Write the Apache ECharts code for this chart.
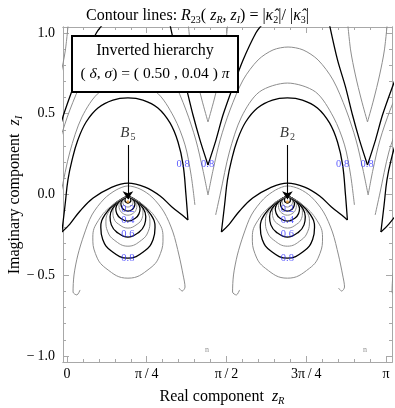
<!DOCTYPE html>
<html><head><meta charset="utf-8">
<script src="https://cdn.jsdelivr.net/npm/echarts@6/dist/echarts.min.js"></script>
<style>html,body{margin:0;padding:0;background:#fff}#c{width:395px;height:408px}</style>
</head><body><div id="c"></div>
<script>
// ---------- axes / ticks (x in units of pi) ----------
const X_MIN = -0.0125, X_MAX = 1.0188, Y_MIN = -1.037, Y_MAX = 1.037;
const xTickValues = [0, 0.25, 0.5, 0.75, 1];
const xTickLabels = ['0', 'π\u2009/\u20094', 'π\u2009/\u20092', '3π\u2009/\u20094', 'π'];
const xMinorTicks = [0.05,0.1,0.15,0.2,0.3,0.35,0.4,0.45,0.55,0.6,0.65,0.7,0.8,0.85,0.9,0.95];
const yTickValues = [-1, -0.5, 0, 0.5, 1];
const yTickLabels = ['\u2212\u20091.0', '\u2212\u20090.5', '0.0', '0.5', '1.0'];
const yMinorTicks = [-0.9,-0.8,-0.7,-0.6,-0.4,-0.3,-0.2,-0.1,0.1,0.2,0.3,0.4,0.6,0.7,0.8,0.9];

// ---------- contour loops below the zeros (B5 at 0.191 pi, B2 at 0.691 pi) ----------
const loopColors = ['k','g','k','g','k','g','k','g','k','g'];
const loopsB5 = [
 [[.191,-.010],[.195,-.014],[.199,-.023],[.200,-.032],[.200,-.040],[.197,-.048],[.191,-.053],[.185,-.048],[.182,-.040],[.182,-.032],[.183,-.023],[.187,-.014],[.191,-.010]],
 [[.191,-.010],[.198,-.017],[.204,-.030],[.207,-.044],[.206,-.058],[.201,-.070],[.191,-.078],[.181,-.070],[.176,-.058],[.175,-.044],[.178,-.030],[.184,-.017],[.191,-.010]],
 [[.191,-.010],[.200,-.019],[.210,-.038],[.213,-.056],[.211,-.075],[.205,-.092],[.191,-.103],[.177,-.092],[.171,-.075],[.169,-.056],[.172,-.038],[.182,-.019],[.191,-.010]],
 [[.191,-.010],[.203,-.022],[.215,-.045],[.219,-.069],[.217,-.092],[.209,-.114],[.191,-.128],[.173,-.114],[.165,-.092],[.163,-.069],[.167,-.045],[.179,-.022],[.191,-.010]],
 [[.191,-.010],[.207,-.026],[.223,-.056],[.229,-.087],[.226,-.118],[.215,-.146],[.191,-.165],[.167,-.146],[.156,-.118],[.153,-.087],[.159,-.056],[.175,-.026],[.191,-.010]],
 [[.191,-.010],[.211,-.030],[.231,-.069],[.238,-.109],[.235,-.149],[.220,-.184],[.191,-.208],[.162,-.184],[.147,-.149],[.144,-.109],[.151,-.069],[.171,-.030],[.191,-.010]],
 [[.191,-.010],[.215,-.035],[.239,-.086],[.247,-.137],[.243,-.188],[.226,-.233],[.191,-.264],[.156,-.233],[.139,-.188],[.135,-.137],[.143,-.086],[.167,-.035],[.191,-.010]],
 [[.191,-.010],[.220,-.041],[.250,-.103],[.260,-.165],[.255,-.227],[.234,-.282],[.191,-.320],[.148,-.282],[.127,-.227],[.122,-.165],[.132,-.103],[.162,-.041],[.191,-.010]],
 [[.191,-.010],[.227,-.048],[.263,-.125],[.276,-.202],[.270,-.279],[.244,-.348],[.191,-.394],[.138,-.348],[.112,-.279],[.106,-.202],[.119,-.125],[.155,-.048],[.191,-.010]],
 [[.191,-.010],[.237,-.061],[.284,-.162],[.301,-.264],[.293,-.365],[.260,-.457],[.191,-.518],[.122,-.457],[.089,-.365],[.081,-.264],[.098,-.162],[.145,-.061],[.191,-.010]]
];
const loopsB2 = [
 [[.691,-.010],[.695,-.014],[.699,-.023],[.700,-.032],[.700,-.040],[.697,-.048],[.691,-.053],[.685,-.048],[.682,-.040],[.682,-.032],[.683,-.023],[.687,-.014],[.691,-.010]],
 [[.691,-.010],[.698,-.017],[.704,-.030],[.707,-.044],[.706,-.058],[.701,-.070],[.691,-.078],[.681,-.070],[.676,-.058],[.675,-.044],[.678,-.030],[.684,-.017],[.691,-.010]],
 [[.691,-.010],[.700,-.019],[.710,-.038],[.713,-.056],[.711,-.075],[.705,-.092],[.691,-.103],[.677,-.092],[.671,-.075],[.669,-.056],[.672,-.038],[.682,-.019],[.691,-.010]],
 [[.691,-.010],[.703,-.022],[.715,-.045],[.719,-.069],[.717,-.092],[.709,-.114],[.691,-.128],[.673,-.114],[.665,-.092],[.663,-.069],[.667,-.045],[.679,-.022],[.691,-.010]],
 [[.691,-.010],[.707,-.026],[.723,-.056],[.729,-.087],[.726,-.118],[.715,-.146],[.691,-.165],[.667,-.146],[.656,-.118],[.653,-.087],[.659,-.056],[.675,-.026],[.691,-.010]],
 [[.691,-.010],[.711,-.030],[.731,-.069],[.738,-.109],[.735,-.149],[.720,-.184],[.691,-.208],[.662,-.184],[.647,-.149],[.644,-.109],[.651,-.069],[.671,-.030],[.691,-.010]],
 [[.691,-.010],[.715,-.035],[.739,-.086],[.747,-.137],[.743,-.188],[.726,-.233],[.691,-.264],[.656,-.233],[.639,-.188],[.635,-.137],[.643,-.086],[.667,-.035],[.691,-.010]],
 [[.691,-.010],[.720,-.041],[.750,-.103],[.760,-.165],[.755,-.227],[.734,-.282],[.691,-.320],[.648,-.282],[.627,-.227],[.622,-.165],[.632,-.103],[.662,-.041],[.691,-.010]],
 [[.691,-.010],[.727,-.048],[.763,-.125],[.776,-.202],[.770,-.279],[.744,-.348],[.691,-.394],[.638,-.348],[.612,-.279],[.606,-.202],[.619,-.125],[.655,-.048],[.691,-.010]],
 [[.691,-.010],[.737,-.061],[.784,-.162],[.801,-.264],[.793,-.365],[.760,-.457],[.691,-.518],[.622,-.457],[.589,-.365],[.581,-.264],[.598,-.162],[.645,-.061],[.691,-.010]]
];

// ---------- black (0.8) crescents: umbrella + big arch, cusps on both ends ----------
const blackUmbrellaB5 = [[-.016,-.232],[.009,-.183],[.041,-.102],[.082,-.022],[.135,.040],[.191,.071],[.245,.046],[.292,-.009],[.329,-.077],[.361,-.127],[.379,-.158]];
const blackArchB5 = [[.379,-.158],[.373,-.003],[.364,.183],[.348,.325],[.323,.443],[.285,.536],[.238,.585],[.191,.598],[.144,.585],[.097,.536],[.060,.449],[.034,.337],[.016,.214],[.003,.090],[-.006,-.065],[-.016,-.232]];
const blackUmbrellaB2 = [[.484,-.232],[.509,-.183],[.541,-.102],[.582,-.022],[.635,.040],[.691,.071],[.745,.046],[.792,-.009],[.829,-.077],[.861,-.127],[.879,-.158]];
const blackArchB2 = [[.879,-.158],[.873,-.003],[.864,.183],[.848,.325],[.823,.443],[.785,.536],[.738,.585],[.691,.598],[.644,.585],[.597,.536],[.560,.449],[.534,.337],[.516,.214],[.503,.090],[.494,-.065],[.484,-.232]];
const blackArchNext = [[1.097,.536],[1.060,.449],[1.034,.337],[1.016,.214],[1.003,.090],[.994,-.065],[.984,-.232]];
const blackUmbrellaNext = [[.984,-.232],[1.009,-.183],[1.041,-.102]];

// ---------- gray umbrellas (with hooks) ----------
const grayUmbrellaB5 = [[.041,-.591],[.031,-.622],[.019,-.604],[.022,-.498],[.034,-.375],[.053,-.251],[.078,-.127],[.116,-.028],[.154,.028],[.191,.053],[.229,.034],[.266,-.015],[.304,-.108],[.332,-.232],[.351,-.375],[.364,-.498],[.370,-.573],[.361,-.598],[.351,-.579]];
const grayUmbrellaB2 = [[.541,-.591],[.531,-.622],[.519,-.604],[.522,-.498],[.534,-.375],[.553,-.251],[.578,-.127],[.616,-.028],[.654,.028],[.691,.053],[.729,.034],[.766,-.015],[.804,-.108],[.832,-.232],[.851,-.375],[.864,-.498],[.870,-.573],[.861,-.598],[.851,-.579]];
const grayUmbrellaNext = [[1.041,-.591],[1.031,-.622],[1.019,-.604],[1.022,-.498],[1.034,-.375],[1.053,-.251]];

// ---------- gray arches just outside the black arches ----------
const grayArchB5 = [[-.034,-.127],[-.019,.009],[.009,.263],[.047,.480],[.103,.635],[.191,.690],[.279,.635],[.335,.480],[.370,.307],[.389,.121],[.401,-.065]];
const grayArchB2 = [[.466,-.127],[.481,.009],[.509,.263],[.547,.480],[.603,.635],[.691,.690],[.779,.635],[.835,.480],[.870,.307],[.889,.121],[.901,-.065]];
const grayArchNext = [[.966,-.127],[.981,.009],[1.009,.263],[1.047,.480]];

// ---------- outer gray zig-zag (V tips between the zeros) ----------
const outerGrayA = [[-.060,-.003],[-.044,.152],[-.022,.337],[.009,.523],[.050,.709],[.097,.833],[.144,.895],[.191,.913],[.238,.895],[.285,.833],[.332,.709],[.373,.523],[.404,.337],[.426,.152],[.442,-.003]];
const outerGrayB = [[.442,-.003],[.458,.152],[.480,.337],[.511,.523],[.552,.709],[.599,.833],[.646,.895],[.693,.913],[.740,.895],[.787,.833],[.834,.709],[.875,.523],[.906,.337],[.928,.152],[.944,-.003]];
const outerGrayC = [[.944,-.003],[.959,.152],[.981,.337],[1.013,.523],[1.053,.709]];

// ---------- black V (0.8) between the zeros ----------
const blackVArms = [
 [[-.058,.183],[-.033,.337],[-.011,.492],[.020,.666],[.052,.833],[.092,1.0],[.111,1.050]],
 [[.323,1.050],[.348,.833],[.373,.666],[.395,.492],[.417,.337],[.442,.183]],
 [[.442,.183],[.467,.337],[.489,.492],[.520,.666],[.552,.833],[.592,1.0],[.611,1.050]],
 [[.823,1.050],[.848,.833],[.873,.666],[.895,.492],[.917,.337],[.942,.183]],
 [[.942,.183],[.967,.337],[.989,.492],[1.020,.666],[1.052,.833]]
];
// ---------- inner gray V ----------
const grayVArms = [
 [[-.058,.449],[-.039,.585],[-.020,.740],[-.005,.895],[.005,1.08]],
 [[.379,1.08],[.389,.895],[.404,.740],[.423,.585],[.442,.449]],
 [[.442,.449],[.461,.585],[.480,.740],[.495,.895],[.505,1.08]],
 [[.879,1.08],[.889,.895],[.904,.740],[.923,.585],[.942,.449]],
 [[.942,.449],[.961,.585],[.980,.740],[.995,.895],[1.005,1.08]]
];

// ---------- annotations ----------
const contourLabels = [[.191,-.090,'0.2'],[.191,-.158,'0.4'],[.191,-.245,'0.6'],[.191,-.393,'0.8'],
  [.691,-.090,'0.2'],[.691,-.158,'0.4'],[.691,-.245,'0.6'],[.691,-.393,'0.8'],
  [.364,.189,'0.8'],[.441,.189,'0.8'],[.864,.189,'0.8'],[.941,.189,'0.8']];
const zeroX = [.191, .691];
const zeroNames = ['5', '2'];
const zeroY = -.045;
const arrowTop = .307, arrowTip = -.030, nameY = .381;
const smallMarks = [[.439,-.963],[.934,-.963]];

// ---------- build ----------
const SERIF = '"Liberation Serif","Times New Roman",serif';
const BLACK = '#000', GRAY = '#8d8d8d';
const series = [];
function addLine(data, c, smooth) {
  series.push({type:'line', data, xAxisIndex:0, yAxisIndex:0, showSymbol:false, symbol:'none',
    smooth: smooth === undefined ? 0.4 : smooth, clip:true, silent:true, animation:false, z:2,
    lineStyle:{color: c === 'k' ? BLACK : GRAY, width: c === 'k' ? 1.3 : 1}});
}
loopsB5.forEach((d,i)=>addLine(d, loopColors[i], 0.45));
loopsB2.forEach((d,i)=>addLine(d, loopColors[i], 0.45));
[blackUmbrellaB5, blackArchB5, blackUmbrellaB2, blackArchB2, blackArchNext, blackUmbrellaNext].forEach(d=>addLine(d,'k'));
[grayUmbrellaB5, grayUmbrellaB2, grayUmbrellaNext, grayArchB5, grayArchB2, grayArchNext, outerGrayA, outerGrayB, outerGrayC].forEach(d=>addLine(d,'g',0.3));
blackVArms.forEach(d=>addLine(d,'k',0.3));
grayVArms.forEach(d=>addLine(d,'g',0.3));

series.push({type:'lines', coordinateSystem:'cartesian2d', xAxisIndex:0, yAxisIndex:0, silent:true, z:6,
  data: zeroX.map(x=>({coords:[[x,arrowTop],[x,arrowTip]]})), symbol:['none','arrow'], symbolSize:8,
  lineStyle:{color:'#000', width:1.1, opacity:1}});
series.push({type:'scatter', silent:true, z:7, data: zeroX.map(x=>[x,zeroY]), symbolSize:3, itemStyle:{color:'#e0902a'}});
series.push({type:'scatter', silent:true, z:8, data: contourLabels, symbolSize:1, itemStyle:{color:'rgba(0,0,0,0)'},
  label:{show:true, position:'inside', formatter:p=>p.data[2], color:'#2f2fff', fontFamily:SERIF, fontSize:10.5}});
series.push({type:'scatter', silent:true, z:8, data: zeroX.map((x,i)=>[x,nameY,zeroNames[i]]), symbolSize:1, itemStyle:{color:'rgba(0,0,0,0)'},
  label:{show:true, position:'inside', formatter:p=>'{i|B}{s|'+p.data[2]+'}',
    rich:{i:{fontFamily:SERIF, fontStyle:'italic', fontSize:15, color:'#000'}, s:{fontFamily:SERIF, fontSize:10, color:'#000', padding:[8,0,0,1]}}}});
series.push({type:'scatter', silent:true, z:8, data: smallMarks, symbolSize:1, itemStyle:{color:'rgba(0,0,0,0)'},
  label:{show:true, position:'inside', formatter:'n', color:'#777', fontFamily:SERIF, fontSize:8}});

function mkAxis(dim, pos, ticks, len, labels) {
  const isX = dim === 'x';
  return {type:'value', min: isX?X_MIN:Y_MIN, max: isX?X_MAX:Y_MAX, position:pos, scale:false,
    axisLine:{show:true, onZero:false, lineStyle:{color:'#a8a8a8', width:1}},
    axisTick:{show:true, inside:true, length:len, customValues:ticks, lineStyle:{color:'#a8a8a8', width:1}},
    axisLabel: labels ? {show:true, customValues:ticks, margin: isX?5:8, fontFamily:SERIF, fontSize:14, color:'#000',
       formatter: v => { const vals = isX?xTickValues:yTickValues; const lab = isX?xTickLabels:yTickLabels;
         let k = 0; vals.forEach((t,j)=>{ if (Math.abs(t-v) < 1e-6) k = j; }); return lab[k]; }} : {show:false},
    splitLine:{show:false}, minorTick:{show:false}, axisPointer:{show:false}};
}

const chart = echarts.init(document.getElementById('c'), null, {renderer:'canvas'});
chart.setOption({
  animation:false,
  backgroundColor:'#fff',
  title:{text:'{n|Contour lines: }{i|R}{s|23}{n|( }{i|z}{si|R}{n|, }{i|z}{si|I}{n|) = |}{i|κ̂}{s|2}{n||/ |}{i|κ̂}{s|3}{n||}',
    left:'center', top:2,
    textStyle:{fontWeight:'normal', rich:{
      n:{fontFamily:SERIF, fontSize:16, fontWeight:'normal', color:'#000'},
      i:{fontFamily:SERIF, fontSize:16, fontWeight:'normal', fontStyle:'italic', color:'#000'},
      s:{fontFamily:SERIF, fontSize:10, fontWeight:'normal', color:'#000', padding:[8,0,0,0]},
      si:{fontFamily:SERIF, fontSize:10, fontWeight:'normal', fontStyle:'italic', color:'#000', padding:[8,0,0,0]}}}},
  grid:{left:63, right:3, top:27, bottom:46, containLabel:false, outerBoundsMode:'none'},
  xAxis:[mkAxis('x','bottom',xTickValues,6,true), mkAxis('x','bottom',xMinorTicks,3,false),
         mkAxis('x','top',xTickValues,6,false), mkAxis('x','top',xMinorTicks,3,false)],
  yAxis:[mkAxis('y','left',yTickValues,6,true), mkAxis('y','left',yMinorTicks,3,false),
         mkAxis('y','right',yTickValues,6,false), mkAxis('y','right',yMinorTicks,3,false)],
  series,
  graphic:[
    {type:'rect', z:100, shape:{x:72, y:36, width:166, height:56}, style:{fill:'#fff', stroke:'#000', lineWidth:2}},
    {type:'text', z:101, x:155, y:51, style:{text:'Inverted hierarchy', font:'16px '+SERIF, fill:'#000', align:'center', verticalAlign:'middle'}},
    {type:'text', z:101, x:155, y:74, style:{text:'{n|( }{i|δ}{n|, }{i|σ}{n|) = ( 0.50 , 0.04 ) }{i|π}', align:'center', verticalAlign:'middle',
      rich:{n:{fontFamily:SERIF, fontSize:15.5, fill:'#000', color:'#000'}, i:{fontFamily:SERIF, fontSize:15.5, fontStyle:'italic', fill:'#000', color:'#000'}}}},
    {type:'text', z:101, x:222, y:397, style:{text:'{n|Real component  }{i|z}{s|R}', align:'center', verticalAlign:'middle',
      rich:{n:{fontFamily:SERIF, fontSize:16, color:'#000'}, i:{fontFamily:SERIF, fontSize:16, fontStyle:'italic', color:'#000'}, s:{fontFamily:SERIF, fontSize:10.5, fontStyle:'italic', color:'#000', padding:[8,0,0,0]}}}},
    {type:'text', z:101, x:15, y:195, rotation:Math.PI/2, style:{text:'{n|Imaginary component  }{i|z}{s|I}', align:'center', verticalAlign:'middle',
      rich:{n:{fontFamily:SERIF, fontSize:16, color:'#000'}, i:{fontFamily:SERIF, fontSize:16, fontStyle:'italic', color:'#000'}, s:{fontFamily:SERIF, fontSize:10.5, fontStyle:'italic', color:'#000', padding:[8,0,0,0]}}}}
  ]
});
</script>
</body></html>
